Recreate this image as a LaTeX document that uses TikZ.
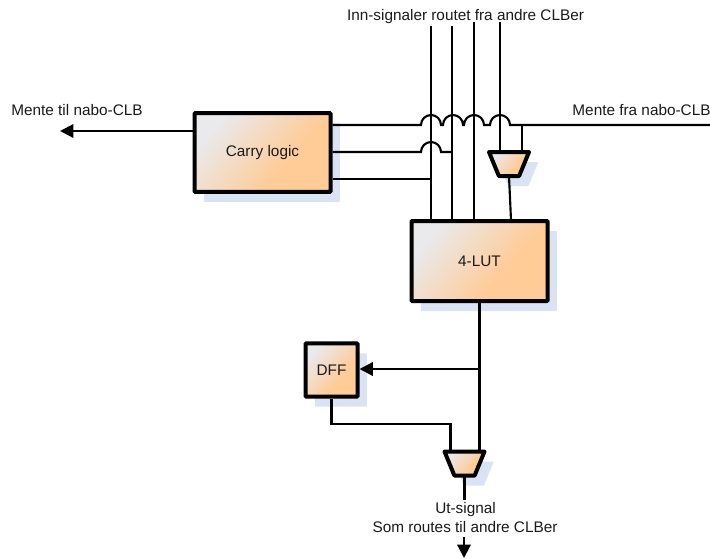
\documentclass[tikz,border=0pt]{standalone}
\usepackage{fontspec}
\setmainfont{Liberation Sans}
\usetikzlibrary{arrows.meta,shapes.geometric,shadows,calc}
\definecolor{shadowblue}{HTML}{DAE3F3}
\definecolor{gradA}{HTML}{EAE9EC}
\definecolor{gradB}{HTML}{FFCB96}
\definecolor{inkc}{HTML}{1A1A1A}
\pgfdeclarehorizontalshading{cellgrad}{100bp}{color(0bp)=(gradA); color(26bp)=(gradA); color(62bp)=(gradB); color(100bp)=(gradB)}
\tikzset{
  cellshade/.style={shading=cellgrad,shading angle=-40,
    general shadow={fill=shadowblue,shadow xshift=7pt,shadow yshift=-7.5pt}},
  block/.style={draw=black,line width=3pt,rounded corners=0.6pt,inner sep=0pt,cellshade,font=\fontsize{11.5pt}{13pt}\selectfont,text=inkc},
  muxbox/.style={trapezium,shape border rotate=180,trapezium stretches=true,
    trapezium left angle=64,trapezium right angle=64,draw=black,line width=3pt,line join=round,inner sep=1pt,outer sep=0pt,cellshade},
  wire/.style={draw=black,line width=1.6pt,line join=miter},
  thickwire/.style={draw=black,line width=1.9pt},
  arrowwire/.style={wire,-{Triangle[length=10pt,width=10pt]}},
  lbl/.style={font=\fontsize{11.5pt}{13pt}\selectfont,text=inkc,inner sep=0pt},
}
\begin{document}
\begin{tikzpicture}[x=0.75pt,y=-0.75pt]
\useasboundingbox (0,0) rectangle (710,558);
% blocks
\node[block,minimum width=102pt,minimum height=59pt] (carry) at (262.5,152.5) {Carry logic};
\node[block,minimum width=102pt,minimum height=60pt] (lut) at (479.5,261) {4-LUT};
\node[block,minimum width=39pt,minimum height=40pt] (dff) at (331.5,370) {DFF};
\node[muxbox,minimum width=30pt,minimum height=18pt] (muxa) at (509,164) {};
\node[muxbox,minimum width=30pt,minimum height=18pt] (muxb) at (464.5,463.5) {};
% labels
\node[lbl] (inn) at (465.5,17) {Inn-signaler routet fra andre CLBer};
\node[lbl] (til) at (77,110) {Mente til nabo-CLB};
\node[lbl] (fra) at (641.5,110) {Mente fra nabo-CLB};
\node[lbl] (ut) at (465.5,509.5) {Ut-signal};
\node[lbl] (som) at (465,527) {Som routes til andre CLBer};
% free ends
\coordinate (ina) at (431,26);
\coordinate (inb) at (452,26);
\coordinate (inc) at (474,22);
\coordinate (ind) at (500,22);
\coordinate (ja) at (421,125);
\coordinate (jb) at (443,125);
\coordinate (jc) at (464,125);
\coordinate (jd) at (490,125);
\coordinate (je) at (522,125);
\coordinate (east) at (710,125);
\coordinate (ka) at (421,152);
\coordinate (kb) at (452,152);
\coordinate (ma) at (431,179);
\coordinate (tilend) at (60,131);
\coordinate (lutmux) at (511,220);
\coordinate (lutout) at (479.5,302);
\coordinate (tap) at (479.5,369);
\coordinate (dffd) at (331.5,424);
\coordinate (dffe) at (450.5,424);
\coordinate (utend) at (464.5,500);
\coordinate (downa) at (464,537);
\coordinate (downb) at (464,558);
% vertical signals
\draw[wire] (ina) -- (ina |- lut.north);
\draw[wire] (inb) -- (inb |- lut.north);
\draw[thickwire] (inc) -- (inc |- lut.north);
\draw[wire] (ind) -- (ind |- muxa.north);
% carry lines with jumps
\draw[wire] (carry.east |- ja) -- (ja) arc[start angle=180,end angle=360,radius=10]
  -- (jb) arc[start angle=180,end angle=360,radius=10]
  -- (jc) arc[start angle=180,end angle=360,radius=10]
  -- (jd) arc[start angle=180,end angle=360,radius=10]
  -- (east);
\draw[wire] (carry.east |- ka) -- (ka) arc[start angle=180,end angle=360,radius=10] -- (kb);
\draw[wire] (carry.east |- ma) -- (ma);
\draw[wire] (je) -- (je |- muxa.north);
\draw[wire] (muxa.south) -- (lutmux);
\draw[arrowwire] (carry.west |- tilend) -- (tilend);
% output part
\draw[wire] (lutout) -- (lutout |- muxb.north);
\draw[arrowwire] (tap) -- (dff.east |- tap);
\draw[wire] (dff.south) -- (dffd) -- (dffe) -- (dffe |- muxb.north);
\draw[wire] (muxb.south) -- (utend);
\draw[arrowwire] (downa) -- (downb);
\end{tikzpicture}
\end{document}
